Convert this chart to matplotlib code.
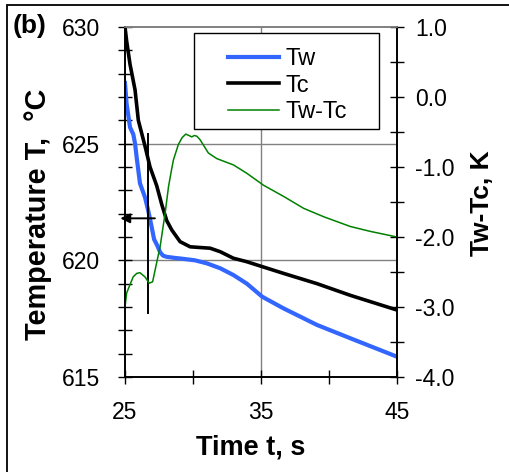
import matplotlib
matplotlib.use('Agg')
import matplotlib.pyplot as plt
from matplotlib.patches import Rectangle
from matplotlib.ticker import MultipleLocator, FixedLocator, FormatStrFormatter

plt.rcParams['font.family'] = ['Liberation Sans', 'DejaVu Sans']

# Tw (blue)
t_w = [25.0, 25.12, 25.37, 25.61, 25.74, 25.86, 26.1, 26.47, 26.72, 26.97, 27.14, 27.36,
       27.58, 27.8, 28.07, 28.7, 29.05, 30.15, 31.02, 32.0, 32.97, 33.96, 35.09, 36.66,
       39.12, 41.57, 45.0]
T_w = [627.6, 626.7, 625.7, 625.4, 625.0, 624.4, 623.3, 622.7, 622.1, 621.4, 620.9, 620.65,
       620.35, 620.2, 620.15, 620.1, 620.08, 620.0, 619.87, 619.66, 619.37, 619.0, 618.44, 617.94,
       617.23, 616.66, 615.87]

# Tc (black)
t_c = [25.0, 25.12, 25.37, 25.74, 25.98, 26.47, 26.84, 27.33, 27.7, 28.07, 28.44, 29.05,
       29.79, 30.5, 31.26, 32.0, 32.97, 33.96, 35.09, 36.66, 39.12, 41.57, 45.0]
T_c = [630.0, 629.4, 628.4, 627.3, 626.0, 624.9, 624.0, 623.2, 622.4, 621.7, 621.3, 620.8,
       620.58, 620.55, 620.52, 620.37, 620.09, 619.94, 619.73, 619.44, 619.0, 618.5, 617.87]

# Tw-Tc (green, right axis)
t_d = [25.0, 25.12, 25.37, 25.6, 25.86, 26.1, 26.47, 26.78, 27.03, 27.27, 27.58, 27.95,
       28.2, 28.44, 28.56, 28.92, 29.2, 29.47, 29.7, 29.91, 30.1, 30.28, 30.52, 31.13,
       31.75, 32.97, 33.96, 35.18, 36.66, 38.13, 39.6, 41.57, 43.04, 45.0]
dT = [-3.0, -2.8, -2.68, -2.57, -2.52, -2.51, -2.57, -2.66, -2.64, -2.42, -2.14, -1.66,
      -1.28, -1.02, -0.90, -0.68, -0.58, -0.53, -0.55, -0.57, -0.55, -0.56, -0.61, -0.80,
      -0.88, -0.97, -1.09, -1.26, -1.42, -1.59, -1.71, -1.85, -1.92, -2.0]

x_major = [25, 35, 45]
x_minor = [30, 40]

fig = plt.figure(figsize=(5.1, 4.72), dpi=100)
ax = fig.add_axes([125/510, 95/472, 272/510, 350/472])
ax2 = ax.twinx()

l1, = ax.plot(t_w, T_w, color='#3366ff', lw=3.0, label='Tw')
l2, = ax.plot(t_c, T_c, color='black', lw=2.6, label='Tc')
l3, = ax2.plot(t_d, dT, color='#008000', lw=1.1, label='Tw-Tc')

# marker line and arrow
ax.plot([26.72, 26.72], [625.4, 617.75], color='black', lw=1.4)
ax.annotate('', xy=(24.45, 621.8), xytext=(27.4, 621.8),
            arrowprops=dict(arrowstyle='-|>', color='black', lw=1.4, mutation_scale=14),
            annotation_clip=False)

ax.set_xlim(25, 45)
ax.set_ylim(615, 630)
ax2.set_ylim(-4, 1)

ax.xaxis.set_major_locator(FixedLocator(x_major))
ax.xaxis.set_minor_locator(FixedLocator(x_minor))
ax.yaxis.set_major_locator(MultipleLocator(5))
ax.yaxis.set_minor_locator(MultipleLocator(1))
ax2.yaxis.set_major_locator(MultipleLocator(1))
ax2.yaxis.set_minor_locator(MultipleLocator(0.5))
ax2.yaxis.set_major_formatter(FormatStrFormatter('%.1f'))

# grid lines at 35 s and at 620, 625
ax.axvline(35, color='#808080', lw=1.0, zorder=0)
for yv in [620, 625]:
    ax.axhline(yv, color='#808080', lw=1.0, zorder=0)

for a in (ax, ax2):
    a.spines['top'].set_color('#808080')
    for s in a.spines.values():
        s.set_linewidth(1.2)
ax.tick_params(which='both', direction='inout', length=10, width=1.0, labelsize=16.5)
ax.tick_params(axis='y', which='both', pad=13)
ax.tick_params(axis='x', which='both', pad=12)
ax2.tick_params(which='both', direction='inout', length=10, width=1.0, labelsize=16.5, pad=8)

ax.set_xlabel('Time t, s', fontsize=19.5, fontweight='bold')
ax.xaxis.set_label_coords(0.463, -0.163)
ax.set_ylabel('Temperature T,  \u00b0C', fontsize=20.8, fontweight='bold')
ax.yaxis.set_label_coords(-0.267, 0.465)
ax2.set_ylabel('Tw-Tc, K', fontsize=19, fontweight='bold')
ax2.yaxis.set_label_coords(1.268, 0.497)

# legend box drawn separately, legend itself without frame
box = Rectangle(((194 - 125) / 272, (377 - 129) / 350), (379 - 194) / 272, 96 / 350,
                transform=ax2.transAxes, facecolor='white', edgecolor='black', lw=1.0, zorder=4)
ax2.add_patch(box)
leg = ax2.legend(handles=[l1, l2, l3], loc='upper left', bbox_to_anchor=(0.3787, 0.94),
                 fontsize=17, frameon=False, handlelength=2.15, handletextpad=0.3,
                 labelspacing=0.2, borderpad=0, borderaxespad=0)
leg.set_zorder(5)

fig.text(13/510, 1 - 33/472, '(b)', fontsize=19, fontweight='bold', va='baseline')

fig.patches.append(Rectangle((7.5/510, -0.1), 1.2, 1.1 - 5/472, fill=False,
                             edgecolor='black', lw=1.3, transform=fig.transFigure))

fig.savefig('out.png', dpi=100)
